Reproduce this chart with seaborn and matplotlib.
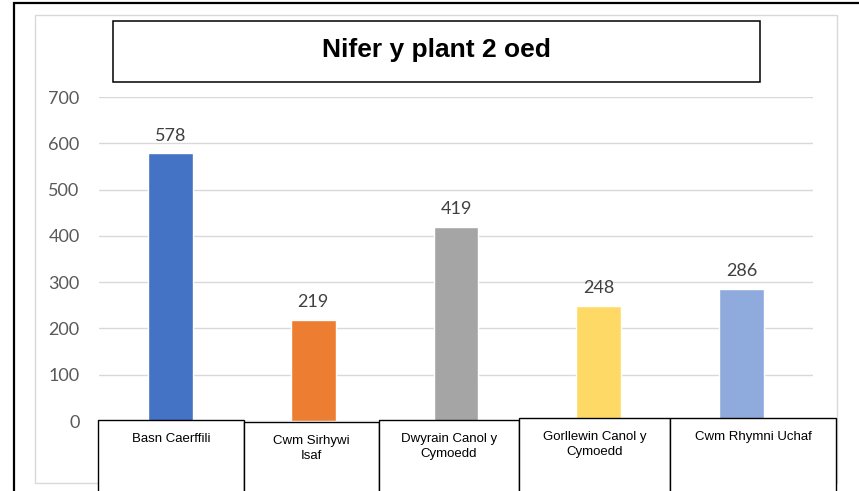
import matplotlib.pyplot as plt
import pandas as pd
import seaborn as sns
from matplotlib.patches import Rectangle

# values
areas = ["Basn Caerffili", "Cwm Sirhywi\nIsaf", "Dwyrain Canol y\nCymoedd",
         "Gorllewin Canol y\nCymoedd", "Cwm Rhymni Uchaf"]
children = [578, 219, 419, 248, 286]
bar_colours = ["#4472C4", "#ED7D31", "#A5A5A5", "#FFD966", "#8FAADC"]
y_ticks = [0, 100, 200, 300, 400, 500, 600, 700]
title = "Nifer y plant 2 oed"

# layout of the label boxes under the axis (pixels)
box_edges = [98, 244, 379, 519, 670, 836]
box_tops = [420, 422, 420, 418, 418]

df = pd.DataFrame({"area": areas, "children": children})

W, H = 859, 491


def fx(px):
    return px / W


def fy(py):
    return 1 - py / H


sns.set_theme(style="white")
plt.rcParams["font.family"] = ["Liberation Sans", "DejaVu Sans"]

fig = plt.figure(figsize=(W / 100, H / 100), dpi=100)
fig.patch.set_facecolor("white")

# outer frame and inner chart area border
fig.add_artist(Rectangle((fx(14), fy(520)), fx(900) - fx(14), fy(3) - fy(520),
                         transform=fig.transFigure, fill=False,
                         edgecolor="black", lw=1.6, zorder=0))
fig.add_artist(Rectangle((fx(35), fy(483)), fx(837) - fx(35), fy(15) - fy(483),
                         transform=fig.transFigure, fill=False,
                         edgecolor="#D9D9D9", lw=1.0, zorder=0))

ax = fig.add_axes([fx(99), fy(421), fx(813) - fx(99), fy(97) - fy(421)])
ax.set_facecolor("none")

sns.barplot(data=df, x="area", y="children", hue="area", palette=bar_colours,
            width=0.315, saturation=1, legend=False, ax=ax)

for container in ax.containers:
    ax.bar_label(container, padding=7, fontsize=13, color="#404040",
                 family="Lato")

ax.set_ylim(0, 700)
ax.set_yticks(y_ticks)
ax.yaxis.grid(True, color="#D9D9D9", lw=1.0)
ax.set_axisbelow(True)
sns.despine(ax=ax, left=True, bottom=True)
ax.tick_params(axis="y", length=0, pad=14, labelsize=13, labelcolor="#595959")
for lab in ax.get_yticklabels():
    lab.set_family("Lato")
ax.set_xticks([])
ax.set_xlabel("")
ax.set_ylabel("")

# title box
fig.add_artist(Rectangle((fx(113), fy(82)), fx(760) - fx(113), fy(21) - fy(82),
                         transform=fig.transFigure, facecolor="white",
                         edgecolor="black", lw=1.1, zorder=2))
fig.text(fx(436.5), fy(57), title, ha="center", va="baseline",
         fontsize=19, fontweight="bold", color="black", zorder=3)

# category label boxes
for i, name in enumerate(areas):
    x0, x1 = box_edges[i], box_edges[i + 1]
    top = box_tops[i]
    fig.add_artist(Rectangle((fx(x0), fy(520)), fx(x1) - fx(x0), fy(top) - fy(520),
                             transform=fig.transFigure, facecolor="white",
                             edgecolor="black", lw=1.0, zorder=2))
    fig.text(fx((x0 + x1) / 2), fy(top + 13), name, ha="center", va="top",
             fontsize=9.5, color="black", linespacing=1.3, zorder=3)

fig.savefig("out.png", dpi=100)
